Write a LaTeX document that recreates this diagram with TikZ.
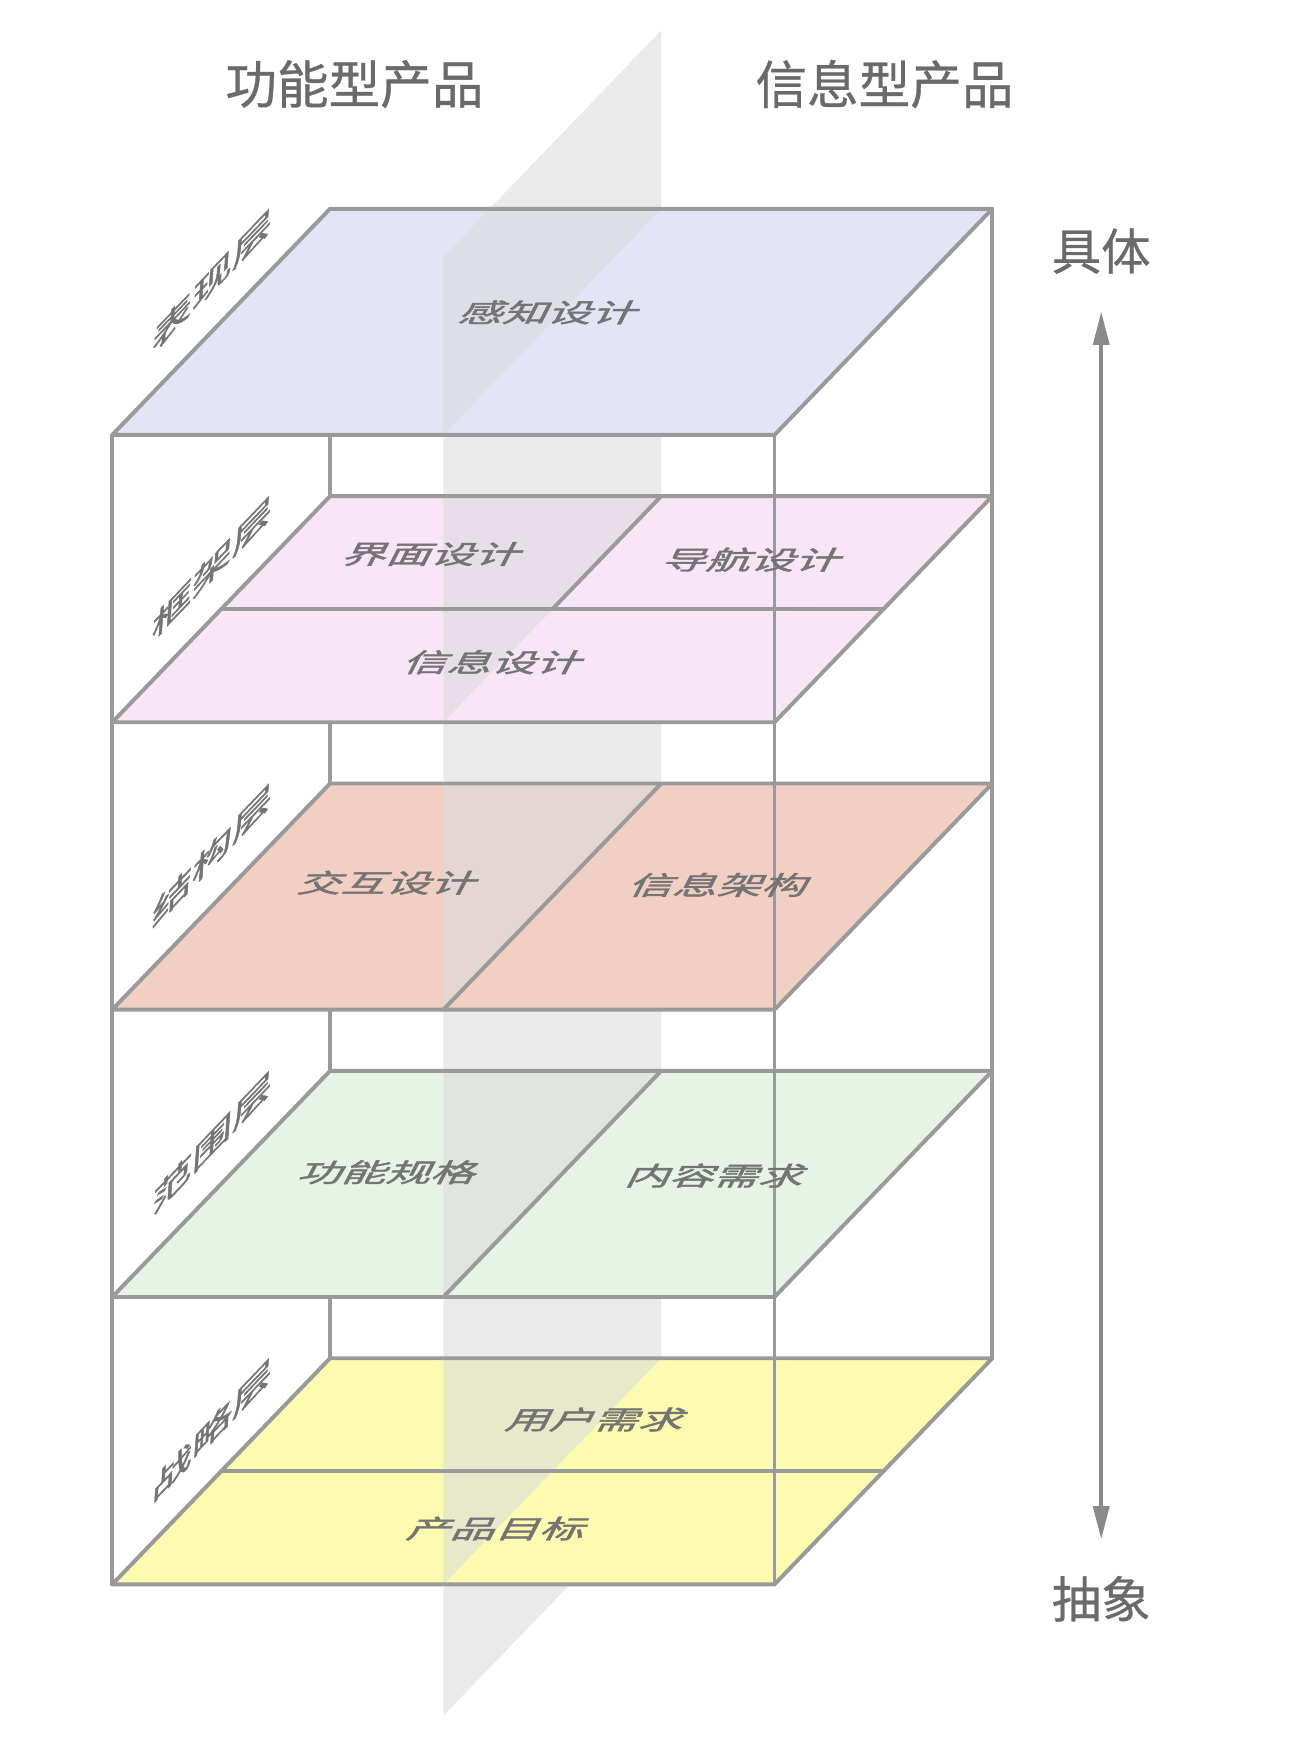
\documentclass[tikz,border=0pt]{standalone}
\usepackage{fontspec}
\setmainfont{Noto Sans CJK SC}
\newfontfamily\cjkbold[FakeBold=1.4]{Noto Sans CJK SC}
\newfontfamily\cjkmid[FakeBold=0.6]{Noto Sans CJK SC}
\usetikzlibrary{arrows.meta}
\definecolor{edge}{HTML}{9A9A9A}
\definecolor{txt}{HTML}{6A6A6A}
\definecolor{lblc}{HTML}{747474}
\definecolor{arrowc}{HTML}{8A8A8A}
\definecolor{fTop}{HTML}{E3E4F6}
\definecolor{fFrame}{HTML}{F8E5F8}
\definecolor{fStruct}{HTML}{F1CFC3}
\definecolor{fScope}{HTML}{E6F4E5}
\definecolor{fStrat}{HTML}{FCFBB0}
\definecolor{planec}{HTML}{DCDCDC}
\begin{document}
\begin{tikzpicture}[x=1pt,y=-1pt,
  edgeline/.style={draw=edge,line width=3.5pt,line join=round,line cap=round},
  tint/.style={fill=planec,fill opacity=0.6},
  title/.style={text=txt,font=\cjkmid\fontsize{46}{50}\selectfont,inner sep=0pt},
  layerlbl/.style={text=lblc,font=\cjkbold\fontsize{40}{44}\selectfont,inner sep=0pt,transform shape,cm={0.9,0.94,0.05,0.7,(0,0)}},
  facelbl/.style={text=lblc,font=\cjkbold\fontsize{40}{44}\selectfont,inner sep=0pt,transform shape,cm={1,0,0.3,0.58,(0,0)}},
  arrowline/.style={draw=arrowc,line width=4pt,{Triangle[length=30pt,width=14pt]}-{Triangle[length=30pt,width=14pt]}}
]
\useasboundingbox[fill=white] (0,0) rectangle (1162,1552);

\begin{scope}[shift={(1,-2.5)},xscale=0.99,yscale=0.9923]
% back-left vertical edge (mostly hidden behind faces)
\draw[edgeline] (296,190) -- (296,1222);

% translucent dividing plane (behind faces)
\fill[tint] (594,30) -- (594,1340) -- (398,1543) -- (398,233) -- cycle;

% faces
\foreach \b/\c in {190/fTop,448/fFrame,706/fStruct,964/fScope,1222/fStrat}{
  \fill[\c] (296,\b) -- (892,\b) -- (696,\b+203) -- (100,\b+203) -- cycle;
}

% plane parts that stand above each face
\fill[tint] (439.5,190) -- (594,190) -- (398,393) -- (398,233) -- cycle;
\foreach \b in {448,706,964,1222}{
  \fill[tint] (398,\b) -- (594,\b) -- (398,\b+203) -- cycle;
}

% face outlines
\foreach \b in {190,448,706,964,1222}{
  \draw[edgeline] (296,\b) -- (892,\b) -- (696,\b+203) -- (100,\b+203) -- cycle;
}
% dividers
\draw[edgeline] (198,549.5) -- (794,549.5);
\draw[edgeline] (594,448) -- (496,549.5);
\draw[edgeline] (594,706) -- (398,909);
\draw[edgeline] (594,964) -- (398,1167);
\draw[edgeline] (198,1323.5) -- (794,1323.5);

% front and back-right verticals
\draw[edgeline] (100,393) -- (100,1425);
\draw[edgeline] (696,393) -- (696,1425);
\draw[edgeline] (892,190) -- (892,1222);

% titles
\node[title] (tfun) at (318,78) {功能型产品};
\node[title] (tinf) at (795,78) {信息型产品};

% layer names
\node[layerlbl] (l1) at (190,254) {表现层};
\node[layerlbl] (l2) at (190,512) {框架层};
\node[layerlbl] (l3) at (190,770) {结构层};
\node[layerlbl] (l4) at (190,1028) {范围层};
\node[layerlbl] (l5) at (190,1286) {战略层};

% face labels
\node[facelbl] (f1) at (495,283) {感知设计};
\node[facelbl] (f2) at (390,500) {界面设计};
\node[facelbl] (f3) at (678,505) {导航设计};
\node[facelbl] (f4) at (445,597) {信息设计};
\node[facelbl] (f5) at (350,795) {交互设计};
\node[facelbl] (f6) at (648,797) {信息架构};
\node[facelbl] (f7) at (350,1055) {功能规格};
\node[facelbl] (f8) at (645,1058) {内容需求};
\node[facelbl] (f9) at (537,1277) {用户需求};
\node[facelbl] (f10) at (448,1375) {产品目标};

% right arrow
\node[title,font=\cjkmid\fontsize{44}{48}\selectfont] (concrete) at (990,228) {具体};
\node[title,font=\cjkmid\fontsize{44}{48}\selectfont] (abstract) at (990,1438) {抽象};
\coordinate (atop) at (990,282);
\coordinate (abot) at (990,1385);
\draw[arrowline] (atop) -- (abot);
\end{scope}
\end{tikzpicture}
\end{document}
